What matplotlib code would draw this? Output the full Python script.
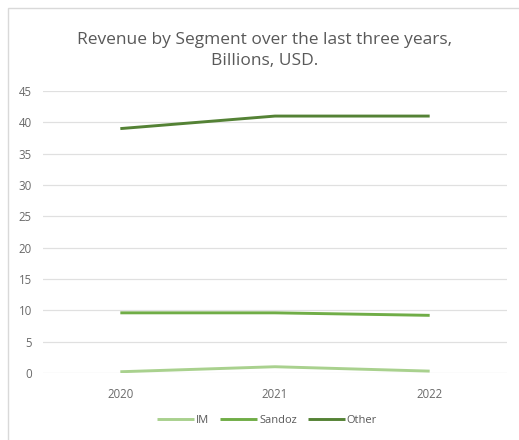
import matplotlib
matplotlib.use("Agg")
import matplotlib.pyplot as plt
from matplotlib.patches import Rectangle

years = ["2020", "2021", "2022"]
im = [0.2, 1.0, 0.3]
sandoz = [9.6, 9.6, 9.2]
other = [39.0, 41.0, 41.0]

series_names = ["IM", "Sandoz", "Other"]
series_colors = ["#a9d18e", "#70ad47", "#548235"]

plt.rcParams['font.family'] = ['Open Sans', 'DejaVu Sans']

fig = plt.figure(figsize=(5.19, 4.40), dpi=100)
# light chart-area border (runs off the bottom/right edge)
fig.patches.append(Rectangle((8 / 519, -0.1), 1.0, (440 - 8) / 440 + 0.1,
                             transform=fig.transFigure, fill=False,
                             edgecolor="#d9d9d9", linewidth=1.0))

ax = fig.add_axes([43 / 519, 67 / 440, 464 / 519, 282 / 440])

x = range(len(years))
for vals, name, col in zip([im, sandoz, other], series_names, series_colors):
    ax.plot(x, vals, color=col, linewidth=2.1, label=name, solid_capstyle="butt")

ax.set_xlim(-0.5, 2.5)
ax.set_ylim(0, 45)
ax.set_yticks(range(0, 46, 5))
ax.set_xticks(list(x))
ax.set_xticklabels(years)
ax.grid(axis="y", color="#e0e0e0", linewidth=0.9)
ax.set_axisbelow(True)
for s in ax.spines.values():
    s.set_visible(False)
ax.tick_params(axis="both", length=0, labelsize=8.3, labelcolor="#6a6a6a")
ax.tick_params(axis="x", pad=11)
ax.tick_params(axis="y", pad=8)

fig.text(265 / 519, 1 - 40 / 440, "Revenue by Segment over the last three years,",
         ha="center", va="center", fontsize=12.5, color="#595959")
fig.text(265 / 519, 1 - 61 / 440, "Billions, USD.",
         ha="center", va="center", fontsize=12.5, color="#595959")

fig.legend(loc="center", bbox_to_anchor=(267 / 519, 1 - 420 / 440), ncol=3,
           frameon=False, fontsize=8, labelcolor="#595959",
           handlelength=3.3, handletextpad=0.2, columnspacing=1.0)

fig.savefig("out.png", dpi=100)
